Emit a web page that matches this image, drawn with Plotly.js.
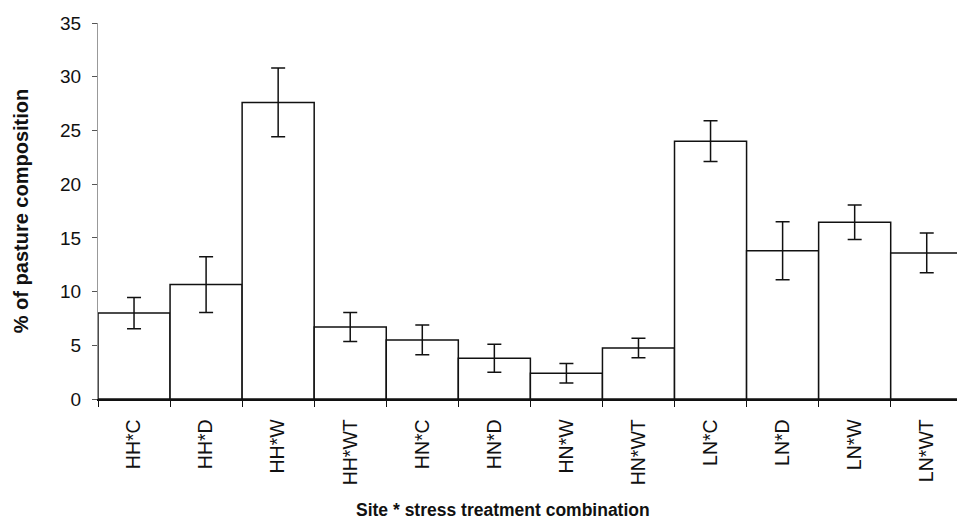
<!DOCTYPE html>
<html>
<head>
<meta charset="utf-8">
<script src="https://cdn.plot.ly/plotly-3.0.1.min.js"></script>
<style>html,body{margin:0;padding:0;background:#fff;}#chart{width:957px;height:526px;}</style>
</head>
<body>
<div id="chart"></div>
<script>
const categories = ["HH*C","HH*D","HH*W","HH*WT","HN*C","HN*D","HN*W","HN*WT","LN*C","LN*D","LN*W","LN*WT"];
const meanValues = [8.0, 10.65, 27.6, 6.7, 5.5, 3.8, 2.4, 4.75, 24.0, 13.8, 16.45, 13.6];
const errorValues = [1.45, 2.6, 3.2, 1.35, 1.38, 1.3, 0.9, 0.9, 1.9, 2.7, 1.6, 1.85];
const yTickValues = [0, 5, 10, 15, 20, 25, 30, 35];
const xTitle = "Site * stress treatment combination";
const yTitle = "% of pasture composition";

const trace = {
  type: "bar",
  x: categories,
  y: meanValues,
  marker: {color: "#ffffff", line: {color: "#111111", width: 1.5}},
  error_y: {type: "data", array: errorValues, visible: true, color: "#111111", thickness: 1.5, width: 7},
  hoverinfo: "skip"
};

const font = "Arial, 'Liberation Sans', sans-serif";
const layout = {
  width: 957, height: 526,
  margin: {l: 98, r: 0, t: 23, b: 127},
  paper_bgcolor: "#ffffff", plot_bgcolor: "#ffffff",
  bargap: 0,
  showlegend: false,
  font: {family: font, color: "#111111", size: 16},
  xaxis: {
    type: "category",
    range: [-0.5, 11.42],
    tickangle: -90,
    ticks: "outside", tickson: "boundaries", ticklen: 6, tickcolor: "#111111", tickwidth: 1,
    ticklabelstandoff: 11,
    showline: true, linecolor: "#111111", linewidth: 1.5,
    showgrid: false, zeroline: false,
    tickfont: {family: font, size: 19.5, color: "#111111"},
    automargin: false
  },
  yaxis: {
    range: [0, 35],
    tickvals: yTickValues,
    ticks: "outside", ticklen: 5, tickcolor: "#555555", tickwidth: 1,
    ticklabelstandoff: 7,
    showline: true, linecolor: "#999999", linewidth: 1,
    showgrid: false, zeroline: false,
    tickfont: {family: font, size: 19, color: "#111111"},
    automargin: false,
    title: {text: "<b>" + yTitle + "</b>", font: {family: font, size: 20, color: "#111111"}, standoff: 26}
  },
  annotations: [{
    text: "<b>" + xTitle + "</b>",
    xref: "paper", yref: "paper",
    x: 0.4715, y: -0.295,
    xanchor: "center", yanchor: "middle",
    showarrow: false,
    font: {family: font, size: 17.5, color: "#111111"}
  }]
};

Plotly.newPlot("chart", [trace], layout, {staticPlot: true, displayModeBar: false});
</script>
</body>
</html>
